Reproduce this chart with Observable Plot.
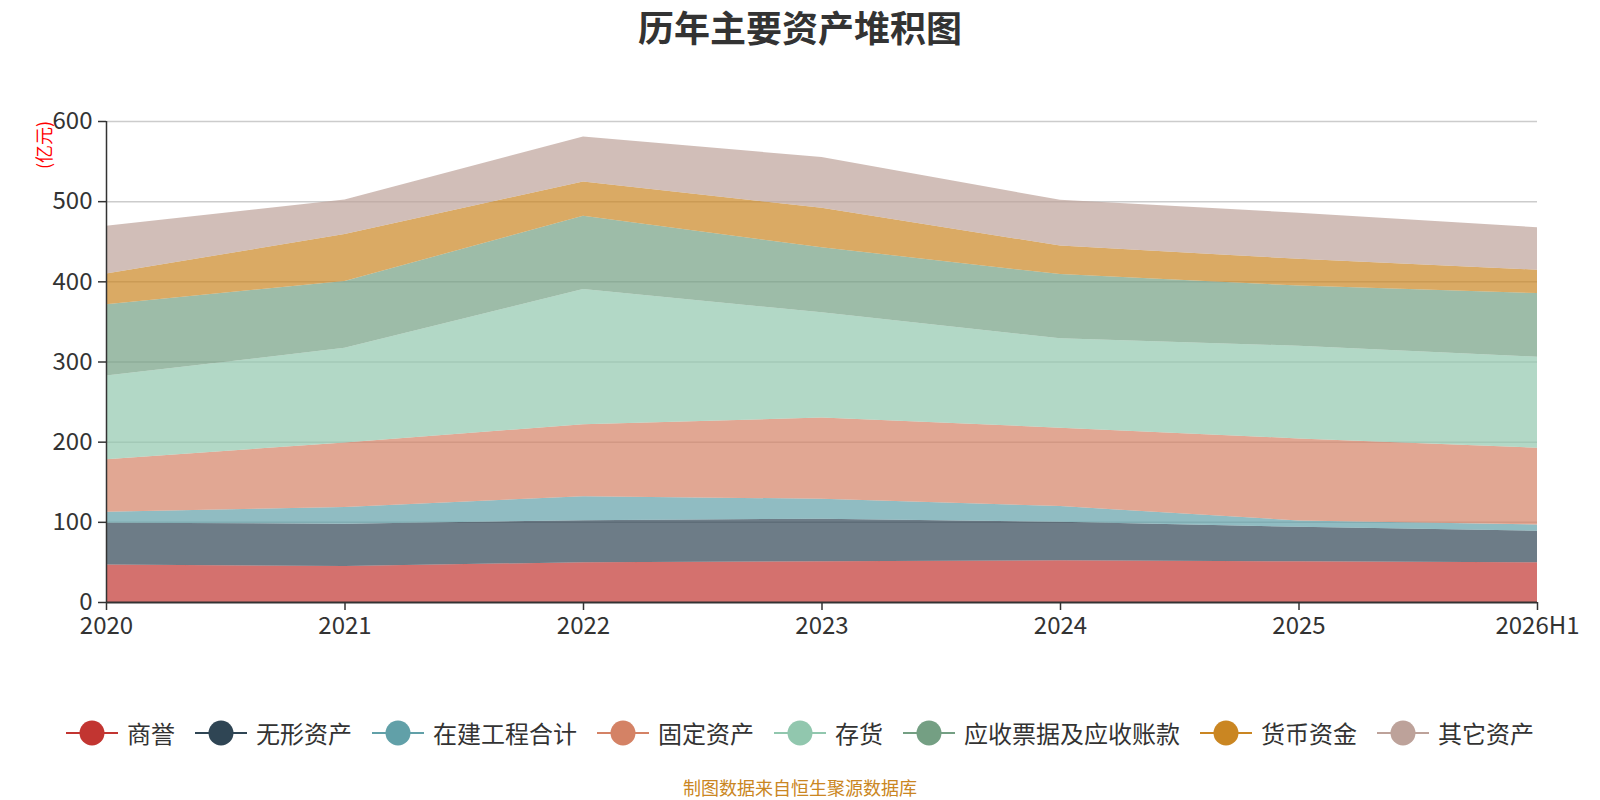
<!DOCTYPE html>
<html>
<head>
<meta charset="utf-8">
<script src="https://cdn.jsdelivr.net/npm/d3@7"></script>
<script src="https://cdn.jsdelivr.net/npm/@observablehq/plot@0.6"></script>
<style>
  html, body { margin: 0; padding: 0; background: #fff; }
  #wrap { position: relative; width: 1600px; height: 800px; overflow: hidden;
          font-family: "Noto Sans CJK SC", "Noto Sans", sans-serif; }
  #title { position: absolute; top: 1px; left: 0; width: 1600px; text-align: center;
           font-size: 36px; font-weight: bold; color: #333; line-height: 50px; }
  #ylab { position: absolute; left: 43px; top: 145px; transform: translate(-50%, -50%) rotate(-90deg);
          color: #ff0000; font-size: 18px; white-space: nowrap; line-height: 20px; }
  #chart { position: absolute; left: 0; top: 0; }
  #legend { position: absolute; top: 715px; left: 0; width: 1600px; display: flex;
            justify-content: center; align-items: center; }
  .item { display: flex; align-items: center; margin: 0 10px; font-size: 24px; color: #333; }
  .item svg { margin-right: 9px; }
  #foot { position: absolute; top: 777px; left: 0; width: 1600px; text-align: center;
          font-size: 18px; color: #ca8622; line-height: 20px; }
</style>
</head>
<body>
<div id="wrap">
  <div id="title">历年主要资产堆积图</div>
  <div id="chart"></div>
  <div id="ylab">(亿元)</div>
  <div id="legend"></div>
  <div id="foot">制图数据来自恒生聚源数据库</div>
</div>
<script>
const years = ["2020", "2021", "2022", "2023", "2024", "2025", "2026H1"];
const seriesNames = ["商誉", "无形资产", "在建工程合计", "固定资产", "存货", "应收票据及应收账款", "货币资金", "其它资产"];
const seriesColors = ["#c23531", "#2f4554", "#61a0a8", "#d48265", "#91c7ae", "#749f83", "#ca8622", "#bda29a"];

const goodwill   = [46.7, 45.0, 49.6, 50.8, 52.0, 50.8, 49.6];
const intangible = [52.2, 52.6, 52.4, 53.2, 48.0, 43.0, 39.4];
const construction = [13.7, 20.9, 30.0, 24.8, 19.6, 8.0, 7.7];
const fixedAssets = [65.5, 80.5, 89.7, 101.2, 97.9, 102.3, 95.8];
const inventory  = [104.3, 118.0, 168.7, 131.3, 111.5, 115.6, 113.5];
const receivables = [88.9, 83.5, 91.3, 81.2, 80.0, 75.0, 79.4];
const cash       = [38.4, 58.5, 42.9, 49.2, 35.6, 33.4, 29.2];
const others     = [59.6, 43.0, 56.2, 63.3, 57.1, 57.4, 52.9];

const yTicks = [0, 100, 200, 300, 400, 500, 600];

const seriesValues = [goodwill, intangible, construction, fixedAssets, inventory, receivables, cash, others];
const table = [];
seriesNames.forEach((name, s) => {
  years.forEach((yr, i) => table.push({ i, year: yr, series: name, value: seriesValues[s][i] }));
});

const chart = Plot.plot({
  width: 1600,
  height: 640,
  marginTop: 121,
  marginBottom: 38,
  marginLeft: 106,
  marginRight: 63,
  style: { fontFamily: '"Noto Sans CJK SC", "Noto Sans", sans-serif', fontSize: "24px", color: "#333", background: "transparent", overflow: "visible" },
  x: { type: "linear", domain: [0, years.length - 1] },
  y: { domain: [0, 600] },
  color: { domain: seriesNames, range: seriesColors },
  marks: [
    Plot.gridY(yTicks.filter(d => d > 0), { stroke: "#ccc", strokeOpacity: 1, strokeWidth: 1.5 }),
    Plot.areaY(table, { x: "i", y: "value", z: "series", fill: "series", fillOpacity: 0.7, order: seriesNames }),
    Plot.axisY({ ticks: yTicks, tickSize: 8, tickPadding: 6, label: null, strokeWidth: 1.5 }),
    Plot.axisX({ ticks: d3.range(years.length), tickFormat: i => years[i], tickSize: 8, tickPadding: 6, label: null, strokeWidth: 1.5 }),
    Plot.ruleX([0], { stroke: "#333", strokeWidth: 1.5 }),
    Plot.ruleY([0], { stroke: "#333", strokeWidth: 2 })
  ]
});
document.getElementById("chart").appendChild(chart);

const legend = document.getElementById("legend");
seriesNames.forEach((name, s) => {
  const item = document.createElement("div");
  item.className = "item";
  const c = seriesColors[s];
  item.innerHTML = `<svg width="52" height="28"><line x1="0" y1="14" x2="52" y2="14" stroke="${c}" stroke-width="2"/><circle cx="26" cy="14" r="12.5" fill="${c}"/></svg><span>${name}</span>`;
  legend.appendChild(item);
});
</script>
</body>
</html>
